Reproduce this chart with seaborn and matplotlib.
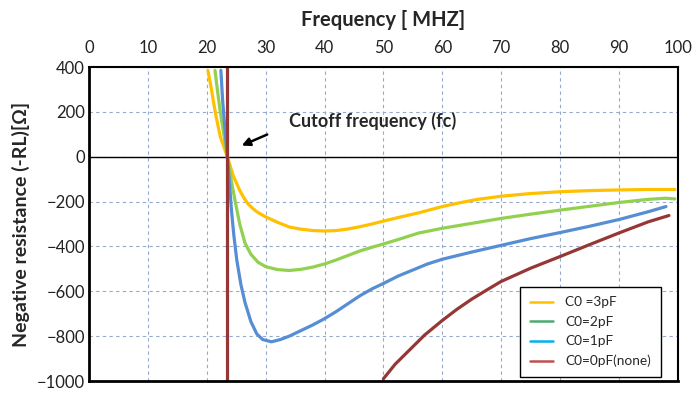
import numpy as np
import pandas as pd
import matplotlib
matplotlib.use("Agg")
import matplotlib.pyplot as plt
from matplotlib.lines import Line2D
import seaborn as sns

# ---- data ----
x_3pf = [20.2, 20.8, 21.5, 22.3, 23.5, 24.5, 25.6, 26.3, 27, 27.8, 28.5, 29.3, 30, 32, 34, 36, 38, 40, 42, 44,
         46, 48, 50, 53, 56, 60, 63, 66, 70, 75, 80, 85, 90, 95, 99.5]
y_3pf = [385, 300, 190, 90, 0, -85, -150, -183, -210, -230, -245, -258, -268, -292, -313, -323, -329, -331,
         -329, -322, -312, -300, -287, -268, -250, -222, -205, -190, -176, -164, -156, -151, -148, -146, -146]

x_2pf = [21.4, 21.8, 22.3, 22.9, 23.5, 24.2, 24.8, 25.6, 26.5, 27.5, 28.7, 30, 32, 34, 36, 38, 40, 42, 44,
         46, 48, 50, 53, 56, 60, 65, 70, 75, 80, 85, 90, 95, 98, 99.5]
y_2pf = [385, 300, 200, 100, 0, -110, -195, -300, -385, -435, -470, -490, -503, -507, -502, -492, -478,
         -460, -440, -420, -404, -389, -365, -340, -319, -297, -275, -256, -238, -221, -204, -190, -185, -188]

x_1pf = [22.4, 22.7, 23.1, 23.5, 23.9, 24.2, 24.6, 25.1, 25.8, 26.5, 27.5, 28.5, 29.5, 31, 32.5, 34, 36, 38,
         40, 42, 44, 46, 48, 50, 52.5, 55, 57.5, 60, 65, 70, 75, 80, 85, 90, 95, 98]
y_1pf = [385, 250, 120, 0, -130, -240, -350, -460, -570, -650, -735, -790, -815, -825, -815, -800, -775,
         -750, -722, -690, -655, -620, -590, -565, -532, -505, -478, -457, -425, -395, -365, -338, -310,
         -280, -245, -222]

x_0pf = [50, 52, 54.5, 57, 60, 62.5, 65, 67.5, 70, 75, 80, 85, 90, 95, 98.5]
y_0pf = [-990, -925, -860, -795, -730, -680, -635, -595, -556, -497, -445, -392, -340, -290, -262]

cutoff_x = [23.5, 23.5]
cutoff_y = [400, -1000]

labels = ["C0 =3pF", "C0=2pF", "C0=1pF", "C0=0pF(none)"]
line_colors = ["#FFC000", "#92D050", "#558ED5", "#953735"]
legend_colors = ["#FFC000", "#4BAA6E", "#00B0F0", "#C0504D"]
x_ticks = list(range(0, 101, 10))
y_ticks = list(range(-1000, 401, 200))

# ---- figure ----
sns.set_style("white")
plt.rcParams["font.family"] = ["Lato", "DejaVu Sans"]

fig = plt.figure(figsize=(6.98, 3.99), dpi=100)
ax = fig.add_axes([0.1275, 0.045, 0.8435, 0.787])

frames = []
for lab, xs, ys in zip(labels, [x_3pf, x_2pf, x_1pf, x_0pf], [y_3pf, y_2pf, y_1pf, y_0pf]):
    frames.append(pd.DataFrame({"f": xs, "r": ys, "series": lab, "part": "curve"}))
frames.append(pd.DataFrame({"f": cutoff_x, "r": cutoff_y, "series": labels[3], "part": "cut"}))
df = pd.concat(frames, ignore_index=True)

palette = dict(zip(labels, line_colors))
for (lab, part), sub in df.groupby(["series", "part"], sort=False):
    sns.lineplot(data=sub, x="f", y="r", color=palette[lab], lw=2.3, sort=False,
                 estimator=None, ax=ax, legend=False)

ax.axhline(0, color="black", lw=1.0, zorder=1.5)

ax.set_xlim(0, 100)
ax.set_ylim(-1000, 400)
ax.set_xticks(x_ticks)
ax.set_yticks(y_ticks)
ax.xaxis.tick_top()
ax.xaxis.set_label_position("top")
ax.tick_params(axis="both", length=0, labelsize=12, colors="#222222")
ax.tick_params(axis="x", pad=8)
ax.tick_params(axis="y", pad=3)

ax.grid(True, color="#95AACB", linestyle=(0, (3, 3)), lw=0.8)
ax.set_axisbelow(True)

for s in ["top", "right"]:
    ax.spines[s].set_color("black")
    ax.spines[s].set_linewidth(1.5)
for s in ["left", "bottom"]:
    ax.spines[s].set_color("black")
    ax.spines[s].set_linewidth(2.0)

ax.set_xlabel("Frequency [ MHZ]", fontsize=14.5, fontweight="bold", labelpad=10)
ax.set_ylabel("Negative resistance (-RL)[Ω]", fontsize=14, fontweight="bold", labelpad=5)

ax.annotate("", xy=(25.5, 45), xytext=(30.7, 104),
            arrowprops=dict(arrowstyle="-|>", color="black", lw=1.8, mutation_scale=12))
ax.text(34.0, 160, "Cutoff frequency (fc)", fontsize=13, fontweight="bold", va="center", ha="left")

handles = [Line2D([0], [0], color=c, lw=1.8) for c in legend_colors]
leg = ax.legend(handles, labels, loc="lower right", bbox_to_anchor=(0.971, 0.013),
                borderaxespad=0,
                fontsize=9.8, frameon=True, fancybox=False, edgecolor="black", framealpha=1,
                handlelength=1.7, handletextpad=0.9, labelspacing=0.55, borderpad=0.7)
leg.get_frame().set_linewidth(1.0)

fig.savefig("out.png", dpi=100)
